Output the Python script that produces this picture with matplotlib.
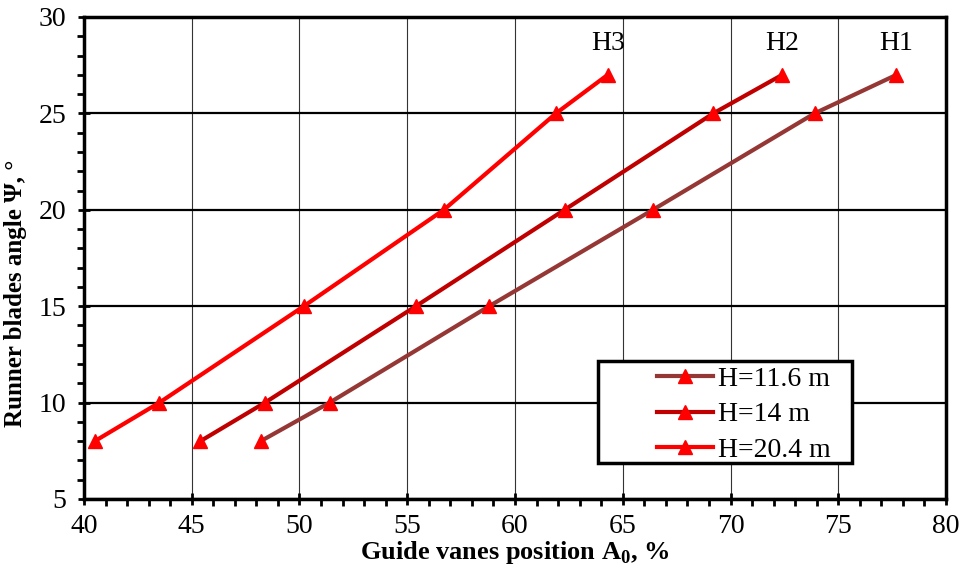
import matplotlib
matplotlib.use("Agg")
import matplotlib.pyplot as plt
from matplotlib.ticker import MultipleLocator
from matplotlib.patches import Rectangle

plt.rcParams['font.family'] = ['Liberation Serif', 'DejaVu Serif']
plt.rcParams['mathtext.fontset'] = 'custom'
plt.rcParams['mathtext.rm'] = 'Liberation Serif'
plt.rcParams['mathtext.bf'] = 'Liberation Serif:bold'

angle = [8, 10, 15, 20, 25, 27]
a0_h1 = [48.2, 51.4, 58.8, 66.4, 73.9, 77.7]
a0_h2 = [45.4, 48.4, 55.4, 62.3, 69.2, 72.4]
a0_h3 = [40.5, 43.5, 50.2, 56.7, 61.9, 64.3]

labels = ["H=11.6 m", "H=14 m", "H=20.4 m"]
tags = ["H1", "H2", "H3"]
colors = ["#953735", "#C00000", "#FF0000"]

fs = 20

fig = plt.figure(figsize=(9.61, 5.76), dpi=100)
ax = fig.add_axes([0.0874, 0.1337, 0.8970, 0.8368])

for xs, lab, c in zip([a0_h1, a0_h2, a0_h3], labels, colors):
    ax.plot(xs, angle, color=c, lw=3, marker="^", ms=10,
            mfc="#FF0000", mec="#FF0000", label=lab, zorder=3)

for xs, t in zip([a0_h1, a0_h2, a0_h3], tags):
    ax.text(xs[-1], 28.6, t, fontsize=fs, ha="center", va="center")

ax.set_xlim(40, 80)
ax.set_ylim(5, 30)
ax.xaxis.set_major_locator(MultipleLocator(5))
ax.xaxis.set_minor_locator(MultipleLocator(1))
ax.yaxis.set_major_locator(MultipleLocator(5))
ax.yaxis.set_minor_locator(MultipleLocator(1))

ax.grid(True, axis="y", which="major", color="black", lw=1.6)
ax.grid(True, axis="x", which="major", color="#333333", lw=0.8)
ax.set_axisbelow(True)

ax.tick_params(which="major", direction="inout", length=9, width=2, labelsize=fs)
ax.tick_params(axis="x", which="major", pad=6)
ax.tick_params(axis="y", which="major", pad=8)
ax.tick_params(which="minor", direction="out", length=5, width=2)
for s in ax.spines.values():
    s.set_linewidth(2.5)

ax.set_xlabel(r"Guide vanes position A$_\mathbf{0}$, %", fontsize=19,
              fontweight="bold", labelpad=0)
ax.set_ylabel("Runner blades angle \u03a8, \u00b0", fontsize=18,
              fontweight="bold")
ax.yaxis.set_label_coords(-0.066, 0.427)

# legend box
ax.add_patch(Rectangle((0.596, 0.075), 0.295, 0.2116, transform=ax.transAxes,
                       facecolor="white", edgecolor="black", lw=2.5, zorder=5))
leg = ax.legend(loc="center left", bbox_to_anchor=(0.665, 0.175),
                fontsize=fs, frameon=False, borderpad=0, borderaxespad=0,
                handlelength=2.0, handletextpad=0.2, labelspacing=0.35)
leg.set_zorder(6)

fig.savefig("out.png", dpi=100)
